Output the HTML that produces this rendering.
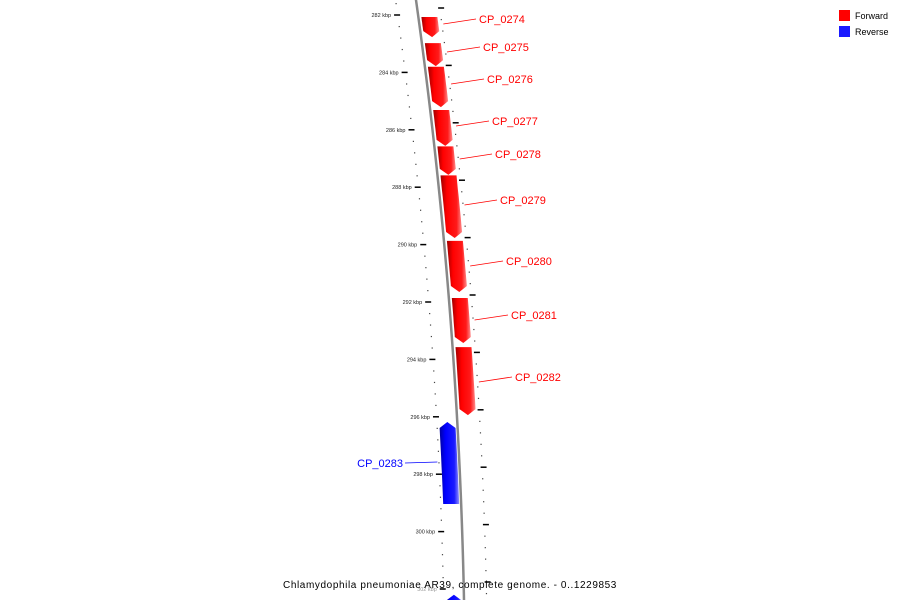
<!DOCTYPE html>
<html><head><meta charset="utf-8"><style>
html,body{margin:0;padding:0;background:#fff;}
svg{display:block;font-family:"Liberation Sans","DejaVu Sans",sans-serif;}
</style></head><body>
<svg id="map" width="900" height="600" viewBox="0 0 900 600" xmlns="http://www.w3.org/2000/svg">
<defs>
<linearGradient id="gr" x1="0" x2="1" y1="0" y2="0"><stop offset="0" stop-color="#a00000"/><stop offset="0.3" stop-color="#ff0000"/><stop offset="0.75" stop-color="#ff1a1a"/><stop offset="1" stop-color="#ff9090"/></linearGradient>
<linearGradient id="gb" x1="0" x2="1" y1="0" y2="0"><stop offset="0" stop-color="#0000a0"/><stop offset="0.3" stop-color="#0000ff"/><stop offset="0.75" stop-color="#1a1aff"/><stop offset="1" stop-color="#9090ff"/></linearGradient>
</defs>
<g id="ticks"></g>
<path id="backbone" fill="none" stroke="#888" stroke-width="2.5"/>
<g id="genes"></g>
<g id="labels"></g>
<g>
<rect x="839" y="10" width="11" height="11" fill="#ff0000"/>
<text x="855" y="19" font-size="9" fill="#000">Forward</text>
<rect x="839" y="26" width="11" height="11" fill="#1a1aff"/>
<text x="855" y="35" font-size="9" fill="#000">Reverse</text>
</g>
<text x="450" y="588" font-size="10" text-anchor="middle" letter-spacing="0.6" fill="#000">Chlamydophila pneumoniae AR39, complete genome. - 0..1229853</text>
</svg>
<script>
const geneNames = ["CP_0274","CP_0275","CP_0276","CP_0277","CP_0278","CP_0279","CP_0280","CP_0281","CP_0282","CP_0283","next"];
const geneStarts = [282.07,282.98,283.80,285.31,286.58,287.59,289.87,291.86,293.57,296.18,302.2];
const geneEnds   = [282.77,283.78,285.21,286.56,287.57,289.77,291.65,293.43,295.94,299.04,303.0];
const geneStrand = [1,1,1,1,1,1,1,1,1,-1,-1];
const labelX = [479,483,487,492,495,500,506,511,515,403,0];
const labelY = [19,47,79,121,154,200,261,315,377,463,0];
const tickLabels = ["282 kbp","284 kbp","286 kbp","288 kbp","290 kbp","292 kbp","294 kbp","296 kbp","298 kbp","300 kbp","302 kbp"];
const tickValues = [282,284,286,288,290,292,294,296,298,300,302];

const NS="http://www.w3.org/2000/svg";
function yOf(k){return 15+(k-282)*28.7;}
function bx(y){return 416+0.14*y-0.0001*y*y;}
function mk(t,a,p){const e=document.createElementNS(NS,t);for(const k in a)e.setAttribute(k,a[k]);p.appendChild(e);return e;}

// backbone
let d="";for(let y=-5;y<=605;y+=5){d+=(y===-5?"M":"L")+bx(y).toFixed(2)+" "+y+" ";}
document.getElementById("backbone").setAttribute("d",d);

// ticks
const tg=document.getElementById("ticks");
for(let i=0;i<tickValues.length;i++){
  const y=yOf(tickValues[i]);
  const l=mk("line",{x1:bx(y)-24,x2:bx(y)-18,y1:y,y2:y,stroke:"#000","stroke-width":1.5},tg);
  
  
  const t=mk("text",{x:bx(y)-27,y:y+2,"font-size":5.5,"text-anchor":"end",fill:i===10?"#999":"#222"},tg);
  t.textContent=tickLabels[i];
  
  
}
for(let k=281.6;k<303;k+=0.4){
  const y=yOf(k);
  const lm=Math.abs((k-282)/2-Math.round((k-282)/2))<0.01;
  if(!lm){const m=mk("rect",{x:bx(y)-21,y:y-0.5,width:1.2,height:1.2,fill:"#444"},tg);
  
  }
  const ry=y-7;
  const rm=Math.abs((k-282)/2-Math.round((k-282)/2))<0.01;
  const r=rm?mk("line",{x1:bx(ry)+21,x2:bx(ry)+27,y1:ry,y2:ry,stroke:"#000","stroke-width":1.5},tg)
            :mk("rect",{x:bx(ry)+22,y:ry-0.5,width:1.2,height:1.2,fill:"#444"},tg);
  
  
}

// genes
const gg=document.getElementById("genes"), lg=document.getElementById("labels");
for(let i=0;i<geneNames.length;i++){
  const y0=yOf(geneStarts[i]), y1=yOf(geneEnds[i]), s=geneStrand[i];
  const o1=s>0?3:-18, o2=s>0?19:-2, ah=6, N=8;
  let pts=[];
  if(s>0){
    for(let j=0;j<=N;j++){const y=y0+(y1-ah-y0)*j/N;pts.push([bx(y)+o2,y]);}
    const ym=y1, xm=bx(ym)+(o1+o2)/2; pts.push([xm,ym]);
    for(let j=N;j>=0;j--){const y=y0+(y1-ah-y0)*j/N;pts.push([bx(y)+o1,y]);}
  } else {
    pts.push([bx(y0)+(o1+o2)/2,y0]);
    for(let j=0;j<=N;j++){const y=y0+ah+(y1-y0-ah)*j/N;pts.push([bx(y)+o2,y]);}
    for(let j=N;j>=0;j--){const y=y0+ah+(y1-y0-ah)*j/N;pts.push([bx(y)+o1,y]);}
  }
  const p=mk("polygon",{points:pts.map(q=>q[0].toFixed(1)+","+q[1].toFixed(1)).join(" "),fill:s>0?"url(#gr)":"url(#gb)"},gg);
  
  
  if(labelX[i]===0) continue;
  const col=s>0?"#f00":"#00f";
  if(s>0){
    const ly=labelY[i]+5, sx=bx(ly)+o2+5;
    const ln=mk("line",{x1:sx,y1:ly,x2:labelX[i]-3,y2:labelY[i],stroke:col,"stroke-width":0.8},lg);
    
    
    const t=mk("text",{x:labelX[i],y:labelY[i]+4,"font-size":11,fill:col},lg);
    t.textContent=geneNames[i];
    
    
  } else {
    const ly=labelY[i], ex=bx(ly)+o1-4;
    const ln=mk("line",{x1:labelX[i]+2,y1:ly,x2:ex,y2:ly-1,stroke:col,"stroke-width":0.8},lg);
    
    
    const t=mk("text",{x:labelX[i],y:labelY[i]+4,"font-size":11,fill:col,"text-anchor":"end"},lg);
    t.textContent=geneNames[i];
    
    
  }
}
</script>
</body></html>
